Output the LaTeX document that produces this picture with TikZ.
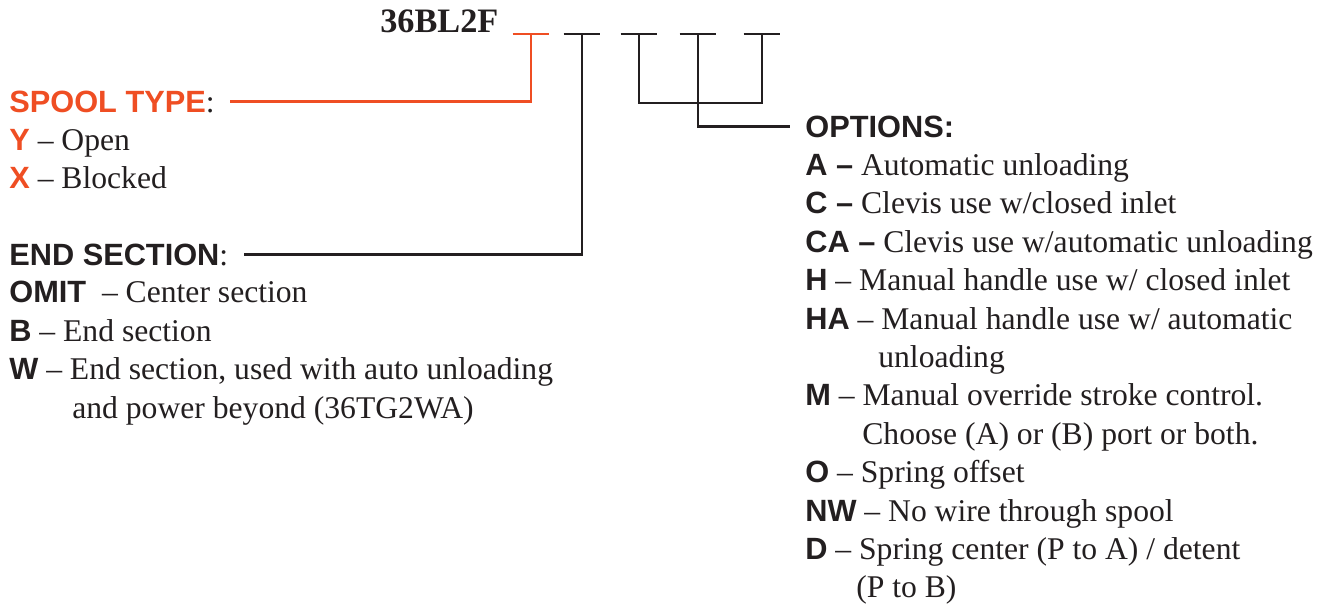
\documentclass[tikz,border=0pt]{standalone}
\usepackage{fontspec}
\setmainfont{Liberation Serif}
\setsansfont{Liberation Sans}
\usetikzlibrary{positioning, calc}
\definecolor{spoolred}{RGB}{239,78,35}
\definecolor{ink}{RGB}{35,31,32}
\newcommand{\kod}[1]{{\sffamily\bfseries\fontsize{17.5}{20}\selectfont #1}}
\newcommand{\kodr}[1]{{\color{spoolred}\sffamily\bfseries\fontsize{17.5}{20}\selectfont #1}}

\begin{document}
\begin{tikzpicture}[x=0.02cm, y=-0.02cm,
    txt/.style={anchor=base west, inner sep=0pt, text=ink, font=\fontsize{18}{22}\selectfont},
    slot/.style={inner sep=0pt, minimum width=0.72cm, minimum height=0pt},
    crta/.style={draw=ink, line width=1.4pt},
    crveno/.style={crta, draw=spoolred}]

    \useasboundingbox (0,0) rectangle (1337,603);

    % ---------------- sifra ----------------
    \node (naziv) [txt, font=\fontsize{19.5}{22}\selectfont\bfseries] at (380,32) {36BL2F};
    \node (s1) [slot] at (531,34) {};
    \node (s2) [slot] at (582,34) {};
    \node (s3) [slot] at (639,34) {};
    \node (s4) [slot] at (698,34) {};
    \node (s5) [slot] at (762,34) {};
    \coordinate (spoj) at (698,103);

    % ---------------- levo ----------------
    \node (spool)   [txt] at (9,112)  {\kodr{SPOOL TYPE}:};
    \node (open)    [txt] at (9,150)  {\kodr{Y} -- Open};
    \node (blocked) [txt] at (9,188)  {\kodr{X} -- Blocked};
    \node (endsec)  [txt] at (9,265)  {\kod{END SECTION}:};
    \node (omit)    [txt] at (9,302)  {\kod{OMIT}\ \ -- Center section};
    \node (endb)    [txt] at (9,341)  {\kod{B} -- End section};
    \node (endw)    [txt] at (9,379)  {\kod{W} -- End section, used with auto unloading};
    \node (endw2)   [txt] at (72,418) {and power beyond (36TG2WA)};

    % ---------------- desno ----------------
    \node (opts) [txt] at (805,137) {\kod{OPTIONS:}};
    \node (oa)   [txt] at (805,175) {\kod{A --} Automatic unloading};
    \node (oc)   [txt] at (805,213) {\kod{C --} Clevis use w/closed inlet};
    \node (oca)  [txt] at (805,252) {\kod{CA --} Clevis use w/automatic unloading};
    \node (oh)   [txt] at (805,290) {\kod{H} -- Manual handle use w/ closed inlet};
    \node (oha)  [txt] at (805,329) {\kod{HA} -- Manual handle use w/ automatic};
    \node (oha2) [txt] at (878,367) {unloading};
    \node (om)   [txt] at (805,405) {\kod{M} -- Manual override stroke control.};
    \node (om2)  [txt] at (862,444) {Choose (A) or (B) port or both.};
    \node (oo)   [txt] at (805,482) {\kod{O} -- Spring offset};
    \node (onw)  [txt] at (805,521) {\kod{NW} -- No wire through spool};
    \node (od)   [txt] at (805,559) {\kod{D} -- Spring center (P to A) / detent};
    \node (od2)  [txt] at (856,597) {(P to B)};

    % ---------------- linije ----------------
    \draw [crveno] (s1.west) -- (s1.east);
    \foreach \s in {s2, s3, s4, s5}
        \draw [crta] (\s.west) -- (\s.east);
    \draw [crveno] (s1.center) |- ([xshift=0.3cm]spool.east);
    \draw [crta] (s2.center) |- ([xshift=0.3cm]endsec.east);
    \draw [crta] (s3.center) |- (spoj) -| (s5.center);
    \draw [crta] (s4.center) |- ([xshift=-0.3cm]opts.west);
\end{tikzpicture}
\end{document}
